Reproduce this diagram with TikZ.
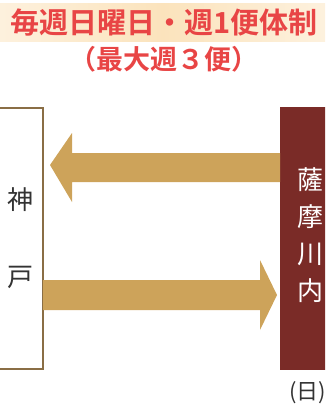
\documentclass[tikz,border=0pt]{standalone}
\usepackage{fontspec}
\newfontfamily\jp{Noto Sans CJK JP}
\newfontfamily\jpb{Noto Sans CJK JP Bold}
\definecolor{titlered}{HTML}{E84545}
\definecolor{bandbg}{HTML}{FBE3BC}
\definecolor{arrowgold}{HTML}{CDA35A}
\definecolor{kobeline}{HTML}{8A6E45}
\definecolor{boxred}{HTML}{7A2B27}
\definecolor{graytext}{HTML}{333333}
\begin{document}
\begin{tikzpicture}[x=1pt,y=-1pt,
  titletext/.style={font=\jpb\fontsize{29}{29}\selectfont, text=titlered, inner sep=0pt},
  goldarrow/.style={fill=arrowgold, draw=none},
  jtext/.style={font=\jp\fontsize{26}{26}\selectfont, inner sep=0pt}]
\useasboundingbox (0,0) rectangle (325,405);
\clip (0,0) rectangle (325,405);
% title band
\shade[left color=bandbg!50, right color=bandbg!50, middle color=bandbg] (0,3) rectangle (325,41);
\node[titletext] (t1) at (164,23) {毎週日曜日・週1便体制};
\node[titletext, font=\jpb\fontsize{27}{27}\selectfont] (t2) at (164,59) {（最大週３便）};
% Kobe box
\draw[kobeline, line width=2.4pt, fill=white] (-5,108) rectangle (43,369);
\node[jtext, text=graytext] (kobe1) at (21,200) {神};
\node[jtext, text=graytext] (kobe2) at (21,277) {戸};
% Satsumasendai box
\fill[boxred] (280,107) rectangle (330,370);
\node[jtext, text=white, align=center, font=\jp\fontsize{26}{37}\selectfont] (sat) at (310,235) {薩\\摩\\川\\内};
\node[font=\jp\fontsize{22}{22}\selectfont, text=graytext, anchor=west, inner sep=0pt] (sun) at (289,393) {(日)};
% arrows
\fill[goldarrow] (280,153) -- (72,153) -- (72,133) -- (50,165) -- (72,202) -- (72,182) -- (280,182) -- cycle;
\fill[goldarrow] (43,280) -- (260,280) -- (260,260) -- (277,295) -- (260,330) -- (260,310) -- (43,310) -- cycle;
\end{tikzpicture}
\end{document}
